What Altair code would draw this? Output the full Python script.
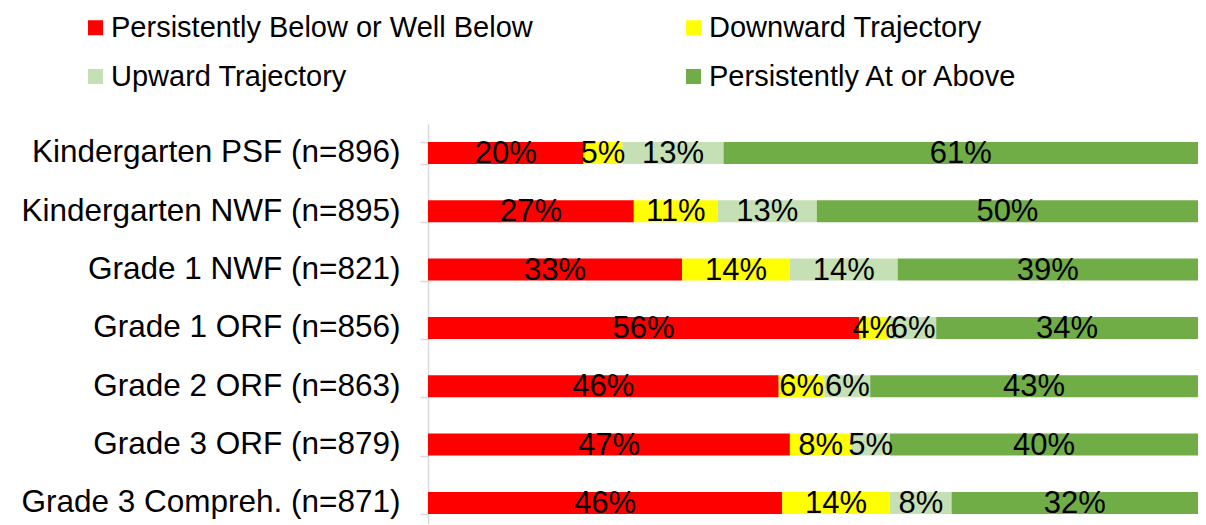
import altair as alt
import pandas as pd

categories = [
    "Kindergarten PSF (n=896)",
    "Kindergarten NWF (n=895)",
    "Grade 1 NWF (n=821)",
    "Grade 1 ORF (n=856)",
    "Grade 2 ORF (n=863)",
    "Grade 3 ORF (n=879)",
    "Grade 3 Compreh. (n=871)",
]
series = [
    "Persistently Below or Well Below",
    "Downward Trajectory",
    "Upward Trajectory",
    "Persistently At or Above",
]
colors = ["#FF0000", "#FFFF00", "#C5E0B4", "#70AD47"]

persistently_below = [20, 27, 33, 56, 46, 47, 46]
downward = [5, 11, 14, 4, 6, 8, 14]
upward = [13, 13, 14, 6, 6, 5, 8]
persistently_above = [61, 50, 39, 34, 43, 40, 32]

rows = []
for s_i, (s, vals) in enumerate(zip(series, [persistently_below, downward, upward, persistently_above])):
    for c, v in zip(categories, vals):
        rows.append({"category": c, "series": s, "order": s_i, "value": v, "label": f"{v}%"})
df = pd.DataFrame(rows)

FONT = "Liberation Sans"

base = alt.Chart(df).transform_stack(
    stack="value", groupby=["category"], as_=["v0", "v1"], offset="normalize",
    sort=[alt.SortField("order", order="ascending")],
).transform_calculate(mid="(datum.v0 + datum.v1) / 2")

yenc = alt.Y(
    "category:N", sort=categories, title=None,
    scale=alt.Scale(paddingInner=0.623, paddingOuter=0.24, align=0.64),
    axis=alt.Axis(
        labelFont=FONT, labelFontSize=31.5, labelColor="#000000", labelPadding=20,
        tickSize=8, tickColor="#D9D9D9", tickWidth=1.5, domainColor="#D9D9D9", domainWidth=1.5,
        tickBand="extent", labelLimit=0,
    ),
)

bars = base.mark_bar(stroke=None).encode(
    x=alt.X("v0:Q", axis=None, scale=alt.Scale(domain=[0, 1], nice=False, zero=True)),
    x2="v1:Q",
    y=yenc,
    color=alt.Color(
        "series:N",
        scale=alt.Scale(domain=series, range=colors),
        sort=series,
        legend=alt.Legend(
            title=None, orient="none", legendX=-347, legendY=-111, columns=2,
            direction="horizontal",
            symbolType="square", symbolSize=225, symbolStrokeWidth=0,
            labelFont=FONT, labelFontSize=29, labelColor="#000000", labelOffset=1,
            labelLimit=0, columnPadding=146, rowPadding=19,
        ),
    ),
    order=alt.Order("order:Q"),
)

texts = base.mark_text(font=FONT, fontSize=31, color="#000000", baseline="middle", align="center", dy=1).encode(
    x=alt.X("mid:Q"),
    y=alt.Y("category:N", sort=categories),
    text="label:N",
)

chart = alt.layer(bars, texts).properties(
    width=770, height=400,
    autosize=alt.AutoSizeParams(type="none"),
    padding={"left": 420, "top": 116, "right": 0, "bottom": 0},
).configure_view(stroke=None)

chart.save("out.html", embed_options={"renderer": "svg", "actions": False})
